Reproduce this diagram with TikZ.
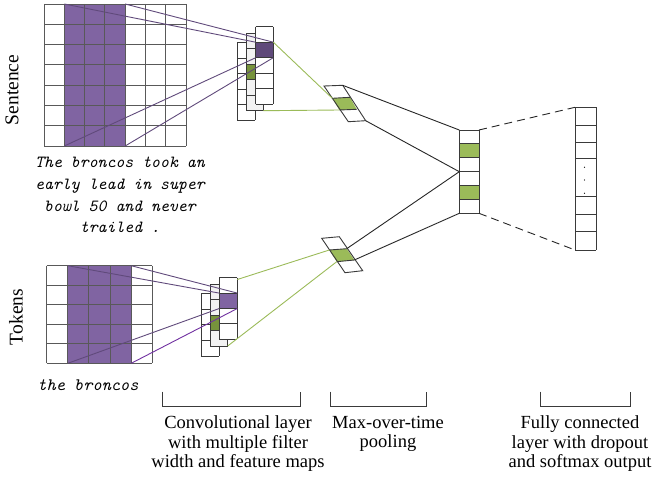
\documentclass[tikz,border=0pt]{standalone}
\usepackage{fontspec}
\setmainfont{Liberation Serif}
\newcommand\monoit{\ttfamily\itshape}
\definecolor{purp}{HTML}{8064A2}
\definecolor{dpurp}{HTML}{5F497A}
\definecolor{lpurpline}{HTML}{604A7B}
\definecolor{vpurp}{HTML}{7030A0}
\definecolor{lgreen}{HTML}{9BBB59}
\definecolor{dgreen}{HTML}{77933C}
\definecolor{lgray}{HTML}{F2F2F2}
\definecolor{gridc}{HTML}{595959}
\definecolor{edgec}{HTML}{3A3A3A}
\tikzset{
  gridline/.style={draw=gridc,line width=0.9pt},
  cellline/.style={draw=edgec,line width=0.9pt},
  purpline/.style={draw=lpurpline,line width=0.9pt},
  greenline/.style={draw=lgreen,line width=0.9pt},
  blackline/.style={draw=black!85,line width=0.9pt},
  dashline/.style={draw=black!85,line width=0.9pt,dash pattern=on 8pt off 5pt},
  bracketline/.style={draw=edgec,line width=1pt},
  lbl/.style={inner sep=0pt,align=center,font=\fontsize{18.5}{19.5}\selectfont},
}
\newcommand\colstack[7]{%
  \pgfmathsetmacro\cht{(#4-#3)/#5}%
  \fill[#6] (#1,#3) rectangle (#2,#4);%
  \foreach \idx/\cc in {#7} {\fill[\cc] (#1,{#3+\idx*\cht}) rectangle (#2,{#3+(\idx+1)*\cht});}%
  \foreach \k in {0,...,#5} {\draw[cellline] (#1,{#3+\k*\cht}) -- (#2,{#3+\k*\cht});}%
  \draw[cellline] (#1,#3) -- (#1,#4) (#2,#3) -- (#2,#4);%
}
\begin{document}
\begin{tikzpicture}[x=1pt,y=-1pt]
\useasboundingbox (0,0) rectangle (658,487);

% ---------- Sentence grid ----------
\fill[purp] (64.29,4) rectangle (125.14,146);
\foreach \k in {0,...,7} {
  \draw[gridline] ({44+\k*20.286},4) -- ({44+\k*20.286},146);
  \draw[gridline] (44,{4+\k*20.286}) -- (186,{4+\k*20.286});
}
\coordinate (sgTL) at (64.29,4);
\coordinate (sgTR) at (125.14,4);
\coordinate (sgBL) at (64.29,146);
\coordinate (sgBR) at (125.14,146);

\node[rotate=90,inner sep=0pt,font=\fontsize{19.5}{20}\selectfont] (sentlbl) at (12,90) {Sentence};
\node[inner sep=0pt,align=center,font=\monoit\fontsize{17}{21.7}\selectfont] (senttext) at (120,195)
  {The broncos took an\\early lead in super\\bowl 50 and never\\trailed .};

% ---------- Sentence feature maps ----------
\colstack{237.3}{255}{42.7}{120}{5}{white}{0/white}
\colstack{246.7}{263.3}{33.3}{110.7}{5}{lgray}{2/dgreen}
\colstack{255.7}{273.3}{26.7}{104.3}{5}{white}{1/dpurp}
\coordinate (sfTL) at (255.7,42.2);
\coordinate (sfTR) at (273.3,42.2);
\coordinate (sfBL) at (255.7,57.7);
\coordinate (sfBR) at (273.3,57.7);
\coordinate (smBR) at (263.3,110.7);

\draw[purpline] (sgTL) -- (sfTL);
\draw[purpline] (sgTR) -- (sfTR);
\draw[purpline] (sgBL) -- (sfBL);
\draw[purpline] (sgBR) -- (sfBR);

% ---------- Tokens grid ----------
\fill[purp] (67.8,265.7) rectangle (131.2,363.3);
\foreach \k in {0,...,5} {
  \draw[gridline] ({46.7+\k*21.12},265.7) -- ({46.7+\k*21.12},363.3);
  \draw[gridline] (46.7,{265.7+\k*19.52}) -- (152.3,{265.7+\k*19.52});
}
\coordinate (tgTL) at (67.8,265.7);
\coordinate (tgTR) at (131.2,265.7);
\coordinate (tgBL) at (67.8,363.3);
\coordinate (tgBR) at (131.2,363.3);

\node[rotate=90,inner sep=0pt,font=\fontsize{19.5}{20}\selectfont] (toklbl) at (16,317) {Tokens};
\node[inner sep=0pt,font=\monoit\fontsize{17.5}{20}\selectfont] (toktext) at (88,385) {the broncos};

% ---------- Tokens feature maps ----------
\colstack{201.3}{219}{293.3}{356}{4}{white}{0/white}
\colstack{210}{227.7}{284}{346}{4}{lgray}{2/dgreen}
\colstack{219.3}{237.3}{277.7}{339.3}{4}{white}{1/purp}
\coordinate (tfTL) at (219.3,293.1);
\coordinate (tfTR) at (237.3,293.1);
\coordinate (tfBL) at (219.3,308.5);
\coordinate (tfBR) at (237.3,308.5);
\coordinate (tfTop) at (237.3,279.5);
\coordinate (tmBR) at (227.7,346);

\draw[purpline] (tgTL) -- (tfTL);
\draw[purpline] (tgTR) -- (tfTR);
\draw[purpline] (tgBL) -- (tfBL);
\draw[purpline,draw=vpurp] (tgBR) -- (tfBR);

% ---------- Pooling (top) ----------
\coordinate (tp1) at (324,86);
\coordinate (tp2) at (342.7,85.3);
\coordinate (tp3) at (332.3,98.3);
\coordinate (tp4) at (350,97.3);
\coordinate (tp5) at (339.3,110);
\coordinate (tp6) at (356.7,109.3);
\coordinate (tp7) at (348.3,121.7);
\coordinate (tp8) at (365.7,120.7);
\fill[white] (tp1) -- (tp2) -- (tp8) -- (tp7) -- cycle;
\fill[lgreen] (tp3) -- (tp4) -- (tp6) -- (tp5) -- cycle;
\draw[cellline] (tp1) -- (tp2) -- (tp8) -- (tp7) -- cycle;
\draw[cellline] (tp3) -- (tp4) (tp5) -- (tp6);

% ---------- Pooling (bottom) ----------
\coordinate (bp1) at (321.7,238.3);
\coordinate (bp2) at (339.3,236.7);
\coordinate (bp3) at (329.3,250);
\coordinate (bp4) at (346.7,248.7);
\coordinate (bp5) at (336.7,261.7);
\coordinate (bp6) at (354.3,260);
\coordinate (bp7) at (345,272.7);
\coordinate (bp8) at (362.7,270.7);
\fill[white] (bp1) -- (bp2) -- (bp8) -- (bp7) -- cycle;
\fill[lgreen] (bp3) -- (bp4) -- (bp6) -- (bp5) -- cycle;
\draw[cellline] (bp1) -- (bp2) -- (bp8) -- (bp7) -- cycle;
\draw[cellline] (bp3) -- (bp4) (bp5) -- (bp6);

% ---------- green connectors ----------
\draw[greenline] (sfTR) -- (tp3);
\draw[greenline] (smBR) -- (tp5);
\draw[greenline] (tfTop) -- (bp3);
\draw[greenline] (tmBR) -- (bp5);

% ---------- FC small column ----------
\colstack{459.3}{479}{130}{213.3}{6}{white}{1/lgreen,4/lgreen}
\coordinate (fcTL) at (459.3,130);
\coordinate (fcTR) at (479,130);
\coordinate (fcML) at (459.3,171.7);
\coordinate (fcBL) at (459.3,213.3);
\coordinate (fcBR) at (479,213.3);

\draw[blackline] (tp2) -- (fcTL);
\draw[blackline] (tp8) -- (fcML);
\draw[blackline] (bp4) -- (fcML);
\draw[blackline] (bp6) -- (fcBL);

% ---------- Output column ----------
\fill[white] (575,107.3) rectangle (596,250);
\foreach \yy in {107.3,125,142.7,158.3,196.3,214,231.7,250} {
  \draw[cellline] (575,\yy) -- (596,\yy);
}
\draw[cellline] (575,107.3) -- (575,250) (596,107.3) -- (596,250);
\foreach \yy in {167.3,180,193.3} { \fill[black] (584.5,\yy) circle (0.6); }
\coordinate (ocTL) at (575,107.3);
\coordinate (ocBL) at (575,250);

\draw[dashline] (fcTR) -- (ocTL);
\draw[dashline] (fcBR) -- (ocBL);

% ---------- brackets ----------
\coordinate (b1a) at (162.7,391.7); \coordinate (b1b) at (300,391.7);
\coordinate (b2a) at (330.7,391.7); \coordinate (b2b) at (426,391.7);
\coordinate (b3a) at (540,391.7);   \coordinate (b3b) at (630,391.7);
\draw[bracketline] (b1a) -- ++(0,15) -| (b1b);
\draw[bracketline] (b2a) -- ++(0,15) -| (b2b);
\draw[bracketline] (b3a) -- ++(0,15) -| (b3b);

\node[lbl] (convlbl) at (238,444) {Convolutional layer\\with multiple filter\\width and feature maps};
\node[lbl] (poollbl) at (388,434) {Max-over-time\\pooling};
\node[lbl] (fclbl) at (580,444) {Fully connected\\layer with dropout\\and softmax output};
\end{tikzpicture}
\end{document}
